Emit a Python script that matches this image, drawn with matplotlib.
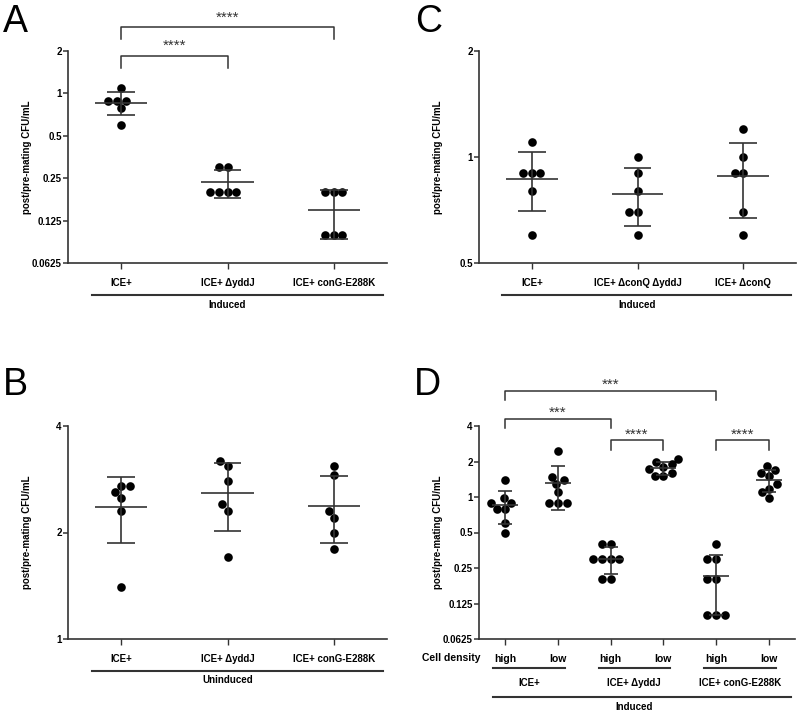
import numpy as np
import matplotlib
matplotlib.use('Agg')
import matplotlib.pyplot as plt
from matplotlib.ticker import FixedLocator, FixedFormatter, NullLocator

plt.rcParams['font.family'] = ['Liberation Sans', 'DejaVu Sans']

# ---- data (post/pre-mating CFU/mL) ----
a_labels = ["ICE+", "ICE+ \u0394yddJ", "ICE+ conG-E288K"]
a_ice = [1.10, 0.89, 0.89, 0.89, 0.79, 0.60]
a_yddj = [0.30, 0.30, 0.20, 0.20, 0.20, 0.20]
a_cong = [0.20, 0.20, 0.20, 0.098, 0.098, 0.098]

b_labels = ["ICE+", "ICE+ \u0394yddJ", "ICE+ conG-E288K"]
b_ice = [2.70, 2.70, 2.60, 2.50, 2.30, 1.40]
b_yddj = [3.19, 3.09, 2.79, 2.40, 2.30, 1.70]
b_cong = [3.09, 2.90, 2.30, 2.20, 2.00, 1.80]

c_labels = ["ICE+", "ICE+ \u0394conQ \u0394yddJ", "ICE+ \u0394conQ"]
c_ice = [1.10, 0.90, 0.90, 0.90, 0.80, 0.60]
c_qj = [1.00, 0.90, 0.80, 0.70, 0.70, 0.60]
c_q = [1.20, 1.00, 0.90, 0.90, 0.70, 0.60]

d_density = ["high", "low", "high", "low", "high", "low"]
d_strains = ["ICE+", "ICE+ \u0394yddJ", "ICE+ conG-E288K"]
d_ice_high = [1.39, 0.99, 0.895, 0.895, 0.79, 0.79, 0.60, 0.50]
d_ice_low = [2.47, 1.49, 1.39, 1.29, 1.095, 0.895, 0.895, 0.895]
d_yddj_high = [0.40, 0.40, 0.30, 0.30, 0.30, 0.30, 0.20, 0.20]
d_yddj_low = [2.10, 1.99, 1.89, 1.81, 1.72, 1.59, 1.51, 1.51]
d_cong_high = [0.40, 0.30, 0.30, 0.20, 0.20, 0.10, 0.10, 0.10]
d_cong_low = [1.83, 1.70, 1.61, 1.51, 1.29, 1.18, 1.095, 0.99]

ylabel = "post/pre-mating CFU/mL"
LINE = '#333333'
DOT_PX = 8.6
W, H = 800, 712

fig = plt.figure(figsize=(W / 100, H / 100), dpi=100)


def yfrac(rect, y_px):
    """pixel row -> axes fraction for an axes given as (left, top, right, bottom) px"""
    return (rect[3] - y_px) / (rect[3] - rect[1])


def make_axes(rect, ylim, yticks, yticklabels, xlabels):
    left, top, right, bottom = rect
    ax = fig.add_axes([left / W, 1 - bottom / H, (right - left) / W, (bottom - top) / H])
    ax.set_yscale('log', base=2)
    ax.set_ylim(*ylim)
    ax.set_xlim(-0.5, len(xlabels) - 0.5)
    ax.yaxis.set_major_locator(FixedLocator(yticks))
    ax.yaxis.set_major_formatter(FixedFormatter(yticklabels))
    ax.yaxis.set_minor_locator(NullLocator())
    ax.set_xticks(range(len(xlabels)))
    ax.set_xticklabels(xlabels, fontsize=7, fontweight='bold')
    for s in ['top', 'right']:
        ax.spines[s].set_visible(False)
    for s in ['left', 'bottom']:
        ax.spines[s].set_color(LINE)
        ax.spines[s].set_linewidth(1.2)
    ax.tick_params(axis='y', length=3.5, width=1.1, color=LINE, pad=1,
                   labelsize=7)
    ax.tick_params(axis='x', length=4, width=1.0, color=LINE, pad=7)
    for t in ax.get_yticklabels():
        t.set_fontweight('bold')
    ax.patch.set_alpha(0)
    fig.text((left - 36) / W, 1 - (top + bottom) / 2 / H, ylabel, rotation=90,
             ha='right', va='center', fontsize=7, fontweight='bold')
    return ax


def swarm_offsets(ax, xc, vals):
    pts = ax.transData.transform(np.column_stack([np.full(len(vals), xc), vals]))
    ys = pts[:, 1]
    placed = []
    offs = np.zeros(len(vals))
    for idx in np.argsort(ys):
        y = ys[idx]
        cands = [0.0]
        for px, py in placed:
            dy = abs(py - y)
            if dy < DOT_PX:
                dx = np.sqrt(DOT_PX ** 2 - dy ** 2)
                cands += [px - dx, px + dx]
        cands.sort(key=lambda c: (abs(c), c))
        for c in cands:
            if all((c - px) ** 2 + (y - py) ** 2 >= DOT_PX ** 2 - 1e-6 for px, py in placed):
                break
        placed.append((c, y))
        offs[idx] = c
    unit = ax.transData.transform((1, 1))[0] - ax.transData.transform((0, 1))[0]
    return offs / unit


def draw_group(ax, xc, vals):
    vals = np.asarray(vals, dtype=float)
    offs = swarm_offsets(ax, xc, vals)
    ax.plot(xc + offs, vals, 'o', color='black', ms=6.2, mew=0, zorder=3, clip_on=False)
    m = vals.mean()
    s = vals.std(ddof=1)
    kw = dict(color=LINE, lw=1.2, zorder=4, solid_capstyle='butt')
    ax.plot([xc - 0.245, xc + 0.245], [m, m], **kw)
    ax.plot([xc - 0.13, xc + 0.13], [m + s, m + s], **kw)
    ax.plot([xc - 0.13, xc + 0.13], [m - s, m - s], **kw)
    ax.plot([xc, xc], [m - s, m + s], **kw)


def bracket(ax, rect, x1, x2, y_px, leg_px, text, text_px):
    tr = ax.get_xaxis_transform()
    yt = yfrac(rect, y_px)
    yb = yfrac(rect, y_px + leg_px)
    ax.plot([x1, x1, x2, x2], [yb, yt, yt, yb], color=LINE, lw=1.1,
            transform=tr, clip_on=False)
    ax.text((x1 + x2) / 2, yfrac(rect, text_px + 3), text, transform=tr,
            ha='center', va='center', fontsize=11, color=LINE)


def group_line(ax, rect, x1, x2, y_px, text=None, tx=None, text_px=None):
    tr = ax.get_xaxis_transform()
    ax.plot([x1, x2], [yfrac(rect, y_px)] * 2, color=LINE, lw=1.5,
            transform=tr, clip_on=False)
    if text:
        ax.text(tx, yfrac(rect, text_px), text, transform=tr, ha='center',
                va='center', fontsize=7, fontweight='bold')


# ---- panel A ----
ra = (68, 51, 387, 263)
axA = make_axes(ra, (0.0625, 2), [0.0625, 0.125, 0.25, 0.5, 1, 2],
                ["0.0625", "0.125", "0.25", "0.5", "1", "2"], a_labels)
for i, v in enumerate([a_ice, a_yddj, a_cong]):
    draw_group(axA, i, v)
bracket(axA, ra, 0, 1, 56, 12, "****", 43)
bracket(axA, ra, 0, 2, 27, 12, "****", 15)
group_line(axA, ra, -0.27, 2.46, 295, "Induced", 1.0, 305)

# ---- panel C ----
rc = (479, 51, 796, 263)
axC = make_axes(rc, (0.5, 2), [0.5, 1, 2], ["0.5", "1", "2"], c_labels)
for i, v in enumerate([c_ice, c_qj, c_q]):
    draw_group(axC, i, v)
group_line(axC, rc, -0.28, 2.45, 295, "Induced", 1.0, 305)

# ---- panel B ----
rb = (68, 426, 387, 639)
axB = make_axes(rb, (1, 4), [1, 2, 4], ["1", "2", "4"], b_labels)
for i, v in enumerate([b_ice, b_yddj, b_cong]):
    draw_group(axB, i, v)
group_line(axB, rb, -0.27, 2.46, 671, "Uninduced", 1.0, 680)

# ---- panel D ----
rd = (479, 426, 795, 639)
axD = make_axes(rd, (0.0625, 4), [0.0625, 0.125, 0.25, 0.5, 1, 2, 4],
                ["0.0625", "0.125", "0.25", "0.5", "1", "2", "4"], d_density)
for t in axD.get_xticklabels():
    t.set_fontsize(7.5)
for i, v in enumerate([d_ice_high, d_ice_low, d_yddj_high, d_yddj_low,
                       d_cong_high, d_cong_low]):
    draw_group(axD, i, v)
bracket(axD, rd, 0, 4, 391, 9, "***", 382)
bracket(axD, rd, 0, 2, 419, 9, "***", 410)
bracket(axD, rd, 2, 3, 440, 10, "****", 432)
bracket(axD, rd, 4, 5, 440, 10, "****", 432)
for k, name in enumerate(d_strains):
    group_line(axD, rd, 2 * k - 0.23, 2 * k + 1.13, 668, name, 2 * k + 0.45, 683)
group_line(axD, rd, -0.23, 5.42, 697, "Induced", 2.45, 707)
fig.text(481 / W, 1 - 658 / H, "Cell density", ha='right', va='center',
         fontsize=7.5, fontweight='bold')

# ---- panel letters ----
for letter, x, y in [("A", 3, 32), ("C", 415, 32), ("B", 3, 395), ("D", 414, 395)]:
    fig.text(x / W, 1 - y / H, letter, fontsize=27, ha='left', va='baseline')

fig.savefig('out.png', dpi=100)
